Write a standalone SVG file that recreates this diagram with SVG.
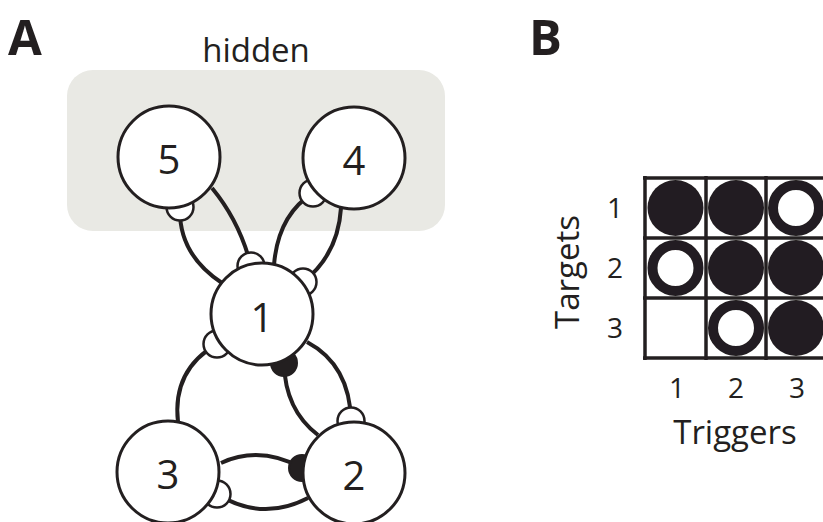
<svg xmlns="http://www.w3.org/2000/svg" width="823" height="522" viewBox="0 0 823 522">
<style>
.node{fill:#fff;stroke:#231f20;stroke-width:3}
.edge{fill:none;stroke:#231f20;stroke-width:4}
.exc{fill:#fff;stroke:#231f20;stroke-width:2.5}
.inh{fill:#231f20;stroke:#231f20;stroke-width:2}
.lbl{font-family:"Open Sans","Noto Sans","DejaVu Sans",sans-serif;fill:#231f20}
.num{font-size:40px;text-anchor:middle}
.ax{font-size:28px;text-anchor:middle}
.grid{stroke:#231f20;stroke-width:3.5}
.full{fill:#231f20}
.ring{fill:none;stroke:#231f20;stroke-width:10}
</style>
<defs>
<filter id="soft" x="-10%" y="-10%" width="120%" height="120%"><feGaussianBlur stdDeviation="0.7"/></filter>
</defs>
<rect width="823" height="522" fill="#fff"/>
<text class="lbl" x="8" y="55" font-size="49" font-weight="bold">A</text>
<text class="lbl" x="529" y="55" font-size="49" font-weight="bold">B</text>
<rect id="hidden-box" x="67" y="70" width="378" height="161" rx="26" ry="26" fill="#e9e9e4"/>
<text class="lbl" x="256" y="62" font-size="33" text-anchor="middle">hidden</text>
<g id="connectors">
<path class="edge" d="M222 283 Q178 254 180 207"/>
<path class="edge" d="M212 188 Q240 222 251 266"/>
<path class="edge" d="M274 265 Q278 215 313 193"/>
<path class="edge" d="M341 208 Q338 255 303 282"/>
<path class="edge" d="M178 422 Q172 370 217 344"/>
<path class="edge" d="M307 342 Q350 365 351 421"/>
<path class="edge" d="M284 363 Q285 410 318 435"/>
<path class="edge" d="M221 463 Q260 445 302 468"/>
<path class="edge" d="M308 498 Q262 522 217 494"/>
<circle class="exc" cx="180" cy="207" r="13.5"/>
<circle class="exc" cx="251" cy="266" r="13.5"/>
<circle class="exc" cx="313" cy="193" r="13.5"/>
<circle class="exc" cx="303" cy="282" r="13.5"/>
<circle class="exc" cx="217" cy="344" r="13.5"/>
<circle class="exc" cx="351" cy="421" r="13.5"/>
<circle class="inh" cx="284" cy="363" r="13"/>
<circle class="inh" cx="302" cy="468" r="13"/>
<circle class="exc" cx="217" cy="494" r="13.5"/>
</g>
<g id="node5"><circle class="node" cx="169" cy="157" r="51"/><text class="lbl num" x="169" y="174">5</text></g>
<g id="node4"><circle class="node" cx="354" cy="158" r="51"/><text class="lbl num" x="354" y="175">4</text></g>
<g id="node1"><circle class="node" cx="262" cy="314" r="51"/><text class="lbl num" x="262" y="332">1</text></g>
<g id="node3"><circle class="node" cx="168" cy="472" r="51"/><text class="lbl num" x="168" y="489">3</text></g>
<g id="node2"><circle class="node" cx="354" cy="473" r="51"/><text class="lbl num" x="354" y="490">2</text></g>
<g id="matrix">
<g filter="url(#soft)">
<circle class="full" cx="675.5" cy="208" r="28"/>
<circle class="full" cx="736" cy="208" r="28"/>
<circle class="ring" cx="796" cy="208" r="23"/>
<circle class="ring" cx="675.5" cy="268" r="23"/>
<circle class="full" cx="736" cy="268" r="28"/>
<circle class="full" cx="796" cy="268" r="28"/>
<circle class="ring" cx="736" cy="328" r="23"/>
<circle class="full" cx="796" cy="328" r="28"/>
</g>
<line class="grid" x1="645" y1="176" x2="645" y2="360"/>
<line class="grid" x1="706" y1="176" x2="706" y2="360"/>
<line class="grid" x1="766" y1="176" x2="766" y2="360"/>
<line class="grid" x1="643" y1="178" x2="823" y2="178"/>
<line class="grid" x1="643" y1="238" x2="823" y2="238"/>
<line class="grid" x1="643" y1="298" x2="823" y2="298"/>
<line class="grid" x1="643" y1="358" x2="823" y2="358"/>
</g>
<text class="lbl ax" x="615" y="218">1</text>
<text class="lbl ax" x="615" y="278">2</text>
<text class="lbl ax" x="615" y="338">3</text>
<text class="lbl ax" x="677" y="398">1</text>
<text class="lbl ax" x="736" y="398">2</text>
<text class="lbl ax" x="797" y="398">3</text>
<text class="lbl" x="735" y="444" font-size="33" text-anchor="middle">Triggers</text>
<text class="lbl" transform="translate(579 272) rotate(-90)" font-size="33" text-anchor="middle">Targets</text>
</svg>
